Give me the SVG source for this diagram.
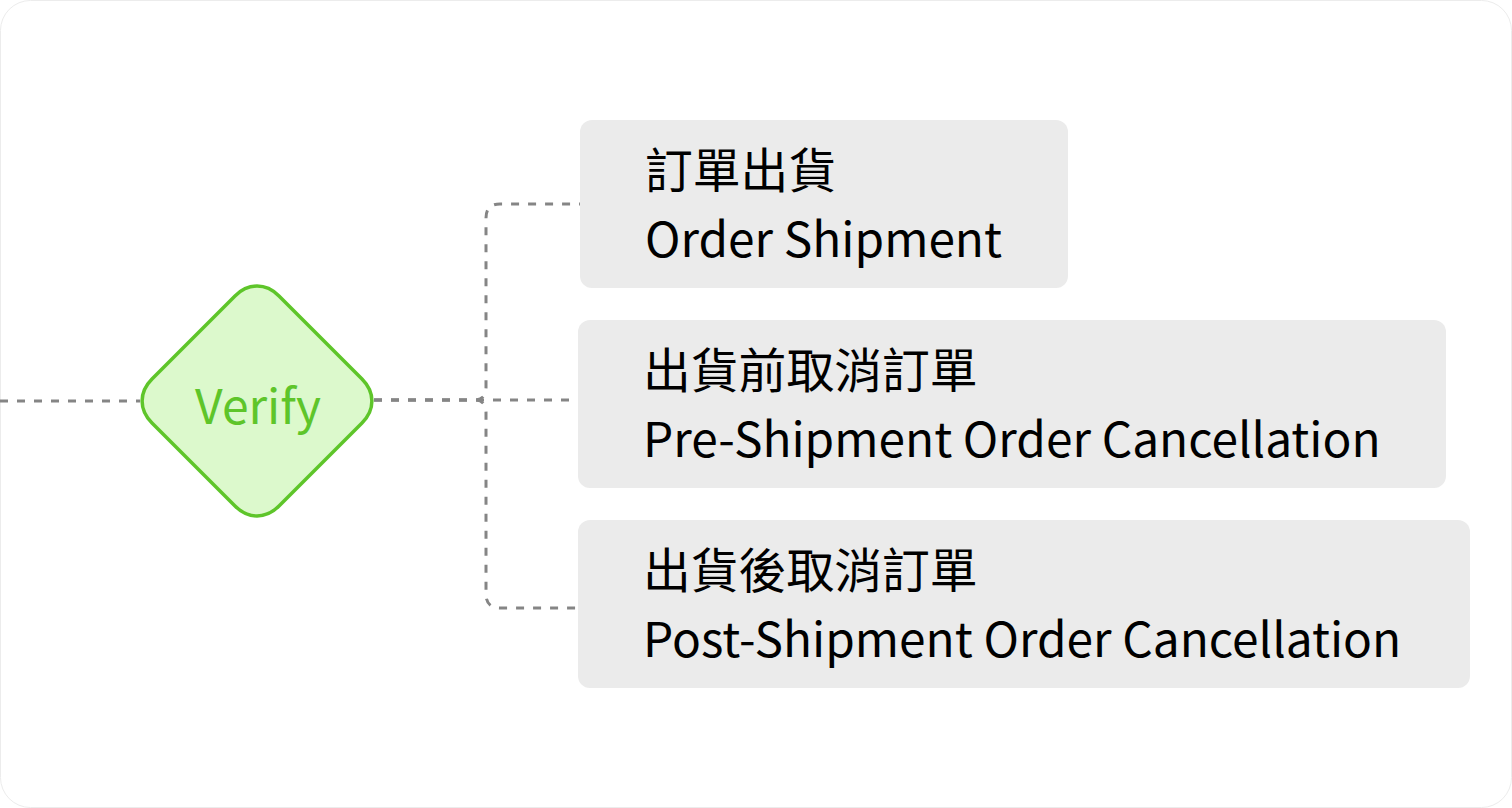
<svg xmlns="http://www.w3.org/2000/svg" width="1512" height="808" viewBox="0 0 1512 808">
  <style>
    .conn { fill: none; stroke: #858585; stroke-width: 3; stroke-dasharray: 8 9; }
    .box { fill: #ebebeb; }
    .lbl { font-family: "Noto Sans CJK TC", "Noto Sans", sans-serif; font-size: 47.8px; fill: #000000; }
    .dec { fill: #dcf9cc; stroke: #5ec52a; stroke-width: 3.5; }
    .dectext { font-family: "Noto Sans CJK TC", "Noto Sans", sans-serif; font-size: 48px; fill: #5ec52a; }
  </style>
  <rect x="0.5" y="0.5" width="1511" height="807" rx="30" fill="#ffffff" stroke="#ececec" stroke-width="1"/>
  <g id="connectors">
    <path class="conn" d="M0,401 H140"/>
    <path class="conn" d="M374,400 H474 Q486,400 486,388 V218 Q486,204 500,204 H580"/>
    <path class="conn" d="M374,400 H578"/>
    <path class="conn" d="M374,400 H474 Q486,400 486,412 V594 Q486,608 500,608 H578"/>
  </g>
  <g id="verify">
    <path class="dec" d="M235,296 C248.2,282.8 265.8,282.8 279,296 L362,379 C375.2,392.2 375.2,409.8 362,423 L279,506 C265.8,519.2 248.2,519.2 235,506 L152,423 C138.8,409.8 138.8,392.2 152,379 Z"/>
    <text class="dectext" x="258" y="424" text-anchor="middle">Verify</text>
  </g>
  <g id="order-shipment">
    <rect class="box" x="580" y="120" width="488" height="168" rx="12"/>
    <text class="lbl" x="645" y="188">訂單出貨</text>
    <text class="lbl" x="645" y="257">Order Shipment</text>
  </g>
  <g id="pre-shipment-cancel">
    <rect class="box" x="578" y="320" width="868" height="168" rx="12"/>
    <text class="lbl" x="643" y="388">出貨前取消訂單</text>
    <text class="lbl" x="643" y="457">Pre-Shipment Order Cancellation</text>
  </g>
  <g id="post-shipment-cancel">
    <rect class="box" x="578" y="520" width="892" height="168" rx="12"/>
    <text class="lbl" x="643" y="588">出貨後取消訂單</text>
    <text class="lbl" x="643" y="657">Post-Shipment Order Cancellation</text>
  </g>
</svg>
